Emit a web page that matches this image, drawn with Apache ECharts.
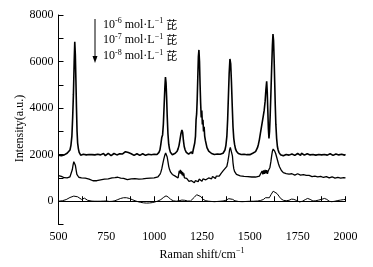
<!DOCTYPE html>
<html><head><meta charset="utf-8">
<script src="https://cdn.jsdelivr.net/npm/echarts@6/dist/echarts.min.js"></script>
<style>html,body{margin:0;padding:0;background:#fff}#c{width:373px;height:267px}</style>
</head><body><div id="c"></div>
<script>
// x tick labels
const xTickLabels = [500, 750, 1000, 1250, 1500, 1750, 2000];
const yTickLabels = [0, 2000, 4000, 6000, 8000];
const legendLabels = ['10^{-6}', '10^{-7}', '10^{-8}'];
const yAxisTitle = 'Intensity(a.u.)';

// 10^-6 mol/L (top)
const series1 = [[500,1980],[505,2020],[510,2000],[515,1960],[520,2010],[525,2040],[530,1990],[535,2030],[540,2000],[545,2060],[550,2040],[555,2100],[560,2200],[565,2400],[570,2800],[574,3600],[578,4600],[582,6000],[585,6850],[588,6300],[591,5200],[594,4000],[597,3000],[600,2500],[604,2250],[608,2100],[612,2050],[616,1980],[620,2030],[625,1970],[630,2020],[635,1960],[640,2040],[645,1990],[650,2050],[655,1970],[660,2010],[665,1960],[670,2030],[675,2000],[680,1950],[685,2040],[690,1990],[695,2060],[700,1970],[705,2020],[710,1960],[715,2040],[720,1990],[725,2030],[730,1970],[735,2050],[740,2000],[745,1960],[750,2030],[755,1990],[760,2060],[765,1980],[770,2020],[775,1960],[780,2040],[785,2000],[790,2050],[795,1980],[800,2030],[805,1990],[810,2060],[815,2000],[820,2040],[825,2010],[830,2060],[835,2030],[840,2080],[845,2100],[850,2130],[855,2100],[860,2140],[865,2090],[870,2110],[875,2060],[880,2040],[885,2000],[890,2030],[895,1970],[900,2020],[905,1960],[910,2040],[915,1990],[920,2030],[925,1970],[930,2010],[935,1960],[940,2040],[945,1990],[950,2020],[955,1970],[960,2050],[965,1990],[970,2020],[975,1970],[980,2040],[985,2000],[990,2030],[995,1980],[1000,2020],[1005,1990],[1010,2040],[1015,2010],[1020,2060],[1025,2100],[1030,2200],[1035,2450],[1040,2750],[1044,2850],[1048,3300],[1052,4100],[1056,4900],[1059,5330],[1062,5100],[1065,4500],[1068,3700],[1072,2900],[1076,2450],[1080,2250],[1085,2100],[1090,2050],[1095,2000],[1100,2030],[1105,2000],[1110,2060],[1115,2100],[1120,2150],[1125,2250],[1130,2400],[1135,2650],[1140,2900],[1145,3060],[1149,2950],[1153,2600],[1157,2350],[1162,2200],[1168,2100],[1174,2060],[1180,2020],[1185,2080],[1190,2000],[1195,2120],[1200,2030],[1204,2200],[1208,2350],[1212,2500],[1216,2800],[1219,3500],[1222,3750],[1225,4400],[1228,5300],[1231,6200],[1234,6500],[1237,6000],[1240,5000],[1243,4200],[1246,3600],[1249,3900],[1252,3300],[1255,3500],[1258,3000],[1261,3200],[1264,2800],[1268,2600],[1272,2450],[1276,2300],[1280,2250],[1285,2150],[1290,2100],[1295,2080],[1300,2050],[1305,2030],[1310,2060],[1315,2010],[1320,2040],[1325,2000],[1330,2030],[1335,2000],[1340,2050],[1345,2020],[1350,2000],[1355,2040],[1360,2060],[1365,2100],[1370,2200],[1375,2400],[1380,2800],[1384,3500],[1388,4500],[1392,5500],[1396,6110],[1400,5900],[1404,5100],[1408,4100],[1412,3200],[1416,2700],[1420,2450],[1425,2250],[1430,2150],[1435,2100],[1440,2050],[1445,2070],[1450,2030],[1455,2010],[1460,2040],[1465,2000],[1470,2020],[1475,1980],[1480,2030],[1485,2000],[1490,2040],[1495,2010],[1500,2000],[1505,2040],[1510,2020],[1515,2060],[1520,2080],[1525,2100],[1530,2130],[1535,2180],[1540,2300],[1545,2450],[1550,2650],[1555,2900],[1560,3150],[1565,3400],[1570,3650],[1575,3900],[1580,4300],[1584,4800],[1588,5150],[1591,4700],[1594,3900],[1597,3100],[1600,2700],[1603,3000],[1606,3600],[1610,4600],[1614,5700],[1618,6700],[1621,7180],[1624,6900],[1627,6100],[1630,5100],[1633,4100],[1636,3300],[1640,2700],[1644,2350],[1648,2200],[1652,2100],[1656,2050],[1660,2000],[1665,1960],[1670,2030],[1675,1950],[1680,2000],[1685,1940],[1690,2010],[1695,1960],[1700,2040],[1705,1980],[1710,2020],[1715,1950],[1720,2030],[1725,1980],[1730,2040],[1735,1970],[1740,2010],[1745,1960],[1750,2050],[1755,1990],[1760,2030],[1765,1970],[1770,2060],[1775,2000],[1780,2040],[1785,1980],[1790,2050],[1795,1990],[1800,2040],[1805,2000],[1810,2060],[1815,1990],[1820,2030],[1825,1970],[1830,2010],[1835,1960],[1840,2040],[1845,1980],[1850,2020],[1855,1950],[1860,2010],[1865,1960],[1870,2040],[1875,1990],[1880,2050],[1885,1970],[1890,2010],[1895,1950],[1900,2030],[1905,1980],[1910,2020],[1915,1960],[1920,2040],[1925,1990],[1930,2030],[1935,1970],[1940,2010],[1945,1950],[1950,2030],[1955,1980],[1960,2050],[1965,1990],[1970,2030],[1975,1960],[1980,2020],[1985,1970],[1990,2040],[1995,1980],[2000,2010]];

// 10^-7 mol/L (middle)
const series2 = [[500,1100],[505,1090],[510,1080],[515,1070],[520,1060],[525,1040],[530,1010],[535,990],[540,980],[545,1000],[550,990],[555,1020],[560,1050],[564,1000],[568,1100],[572,1350],[576,1550],[580,1700],[584,1720],[588,1550],[592,1350],[596,1150],[600,1080],[606,1030],[612,1010],[620,1000],[630,1000],[640,990],[650,970],[660,950],[670,910],[680,880],[690,870],[700,880],[710,900],[720,920],[730,940],[740,950],[750,960],[760,960],[770,980],[780,1000],[785,1040],[790,1060],[795,1010],[800,990],[805,1000],[810,1030],[815,1000],[820,960],[825,990],[830,1030],[835,1000],[840,980],[850,950],[860,930],[870,950],[880,960],[890,960],[900,970],[910,960],[920,950],[930,955],[940,960],[950,970],[960,980],[970,985],[980,990],[990,995],[1000,1000],[1010,1020],[1020,1050],[1025,1080],[1030,1150],[1035,1250],[1040,1400],[1045,1600],[1050,1800],[1055,1960],[1060,2070],[1064,2020],[1068,1900],[1072,1700],[1076,1500],[1080,1370],[1085,1260],[1090,1200],[1095,1150],[1100,1120],[1105,1100],[1110,1080],[1115,1050],[1120,1030],[1125,1000],[1128,1150],[1131,1300],[1134,1200],[1137,1350],[1140,1180],[1143,1300],[1146,1120],[1149,1250],[1152,1080],[1155,1200],[1158,1000],[1162,1080],[1166,920],[1170,980],[1174,900],[1178,950],[1182,850],[1186,920],[1190,780],[1195,880],[1200,820],[1205,860],[1210,790],[1215,880],[1220,830],[1225,900],[1230,840],[1235,950],[1240,880],[1245,930],[1250,860],[1255,960],[1260,900],[1265,980],[1270,920],[1275,960],[1280,900],[1285,1000],[1290,940],[1295,1030],[1300,960],[1305,1060],[1310,990],[1315,1050],[1320,980],[1325,1080],[1330,1030],[1335,1100],[1340,1080],[1345,1150],[1350,1200],[1355,1180],[1360,1300],[1365,1260],[1370,1400],[1375,1380],[1380,1500],[1385,1700],[1390,1950],[1394,2200],[1398,2310],[1402,2280],[1406,2240],[1409,1950],[1412,1650],[1416,1400],[1420,1280],[1425,1200],[1430,1150],[1435,1120],[1440,1100],[1450,1090],[1460,1080],[1470,1070],[1480,1050],[1490,1060],[1500,1050],[1510,1040],[1520,1030],[1530,1040],[1540,1050],[1550,1080],[1555,1100],[1560,1150],[1564,1300],[1568,1150],[1572,1320],[1576,1180],[1580,1350],[1584,1200],[1588,1330],[1592,1180],[1596,1300],[1600,1250],[1605,1450],[1610,1700],[1614,1950],[1618,2150],[1622,2240],[1626,2220],[1630,2150],[1635,2050],[1640,1900],[1645,1750],[1650,1600],[1655,1480],[1660,1400],[1665,1320],[1670,1260],[1675,1230],[1680,1200],[1690,1190],[1700,1180],[1705,1160],[1710,1200],[1715,1150],[1720,1180],[1725,1140],[1730,1170],[1735,1120],[1740,1150],[1745,1130],[1750,1180],[1755,1140],[1760,1190],[1765,1120],[1770,1150],[1775,1100],[1780,1140],[1785,1090],[1790,1130],[1795,1110],[1800,1140],[1805,1080],[1810,1110],[1815,1070],[1820,1100],[1825,1060],[1830,1090],[1835,1050],[1840,1080],[1845,1040],[1850,1090],[1855,1050],[1860,1110],[1865,1040],[1870,1070],[1875,1020],[1880,1060],[1885,1020],[1890,1070],[1895,1030],[1900,1060],[1905,1010],[1910,1050],[1915,1000],[1920,1040],[1925,1000],[1930,1050],[1935,1010],[1940,1040],[1945,990],[1950,1030],[1955,1000],[1960,1020],[1965,980],[1970,1030],[1975,990],[1980,1020],[1985,980],[1990,1010],[1995,990],[2000,1000]];

// 10^-8 mol/L (bottom)
const series3 = [[500,0],[510,5],[520,20],[530,40],[540,70],[550,110],[560,160],[570,200],[580,220],[590,230],[600,190],[610,130],[620,80],[628,70],[636,130],[644,80],[652,40],[660,20],[675,5],[690,0],[705,0],[720,0],[735,5],[750,10],[765,-10],[780,-5],[795,20],[810,70],[825,120],[840,150],[855,150],[870,120],[885,70],[900,20],[915,-20],[930,-50],[945,-70],[960,-80],[975,-75],[990,-60],[1005,-30],[1020,10],[1035,70],[1050,170],[1062,230],[1074,180],[1086,80],[1100,20],[1115,0],[1130,20],[1145,50],[1160,40],[1175,10],[1190,10],[1200,60],[1210,170],[1222,280],[1232,300],[1244,200],[1256,80],[1270,20],[1285,0],[1300,-10],[1315,-20],[1330,-10],[1345,0],[1360,10],[1375,40],[1390,110],[1400,130],[1410,80],[1422,20],[1440,-10],[1460,-20],[1480,-10],[1500,0],[1520,0],[1540,10],[1555,30],[1570,70],[1582,150],[1592,180],[1602,150],[1612,300],[1622,430],[1632,420],[1642,330],[1652,220],[1662,110],[1675,40],[1690,20],[1705,40],[1718,90],[1730,80],[1745,30],[1760,-30],[1775,0],[1790,70],[1802,120],[1815,80],[1830,10],[1845,20],[1860,50],[1875,80],[1890,120],[1902,80],[1915,0],[1928,-20],[1945,0],[1960,30],[1975,50],[1990,70],[2000,80]];

const FONT = '"Liberation Serif", "Times New Roman", serif';
const chart = echarts.init(document.getElementById('c'), null, {renderer: 'canvas'});

function supRich(s) {
  return s.replace(/\^\{([^}]*)\}/g, '{sup|$1}');
}
const legendLines = legendLabels.map(l => '{n|' + supRich(l).replace(/\{sup\|([^}]*)\}/, '}{sup|$1}{n|') + ' mol·L}{sup|−1}{n| }{cn|芘}');

chart.setOption({
  animation: false,
  backgroundColor: '#fff',
  grid: {left: 58.5, right: 27.5, top: 15, bottom: 42.5, containLabel: false},
  xAxis: {
    type: 'value', min: 500, max: 2000, interval: 125,
    name: '{n|Raman shift/cm}{sup|−1}', nameLocation: 'middle', nameGap: 21,
    nameTextStyle: {rich: {
      n: {fontFamily: FONT, fontSize: 12, color: '#000', lineHeight: 15},
      sup: {fontFamily: FONT, fontSize: 8, color: '#000', verticalAlign: 'top', lineHeight: 8}
    }},
    axisLine: {show: true, lineStyle: {color: '#000', width: 1}},
    axisTick: {show: true, inside: true, length: 5, lineStyle: {color: '#000'}},
    axisLabel: {
      margin: 6, color: '#000', fontFamily: FONT, fontSize: 12,
      formatter: v => xTickLabels.indexOf(v) >= 0 ? String(v) : ''
    },
    splitLine: {show: false}
  },
  yAxis: {
    type: 'value', min: -1000, max: 8000, interval: 1000,
    axisLine: {show: true, lineStyle: {color: '#000', width: 1}},
    axisTick: {show: true, inside: true, length: 5, lineStyle: {color: '#000'}},
    axisLabel: {
      margin: 5, color: '#000', fontFamily: FONT, fontSize: 12,
      formatter: v => yTickLabels.indexOf(v) >= 0 ? String(v) : ''
    },
    splitLine: {show: false}
  },
  series: [
    {type: 'line', data: series1, showSymbol: false, lineStyle: {color: '#000', width: 1.6}, z: 3},
    {type: 'line', data: series2, showSymbol: false, lineStyle: {color: '#000', width: 1.3}, z: 3},
    {type: 'line', data: series3, showSymbol: false, lineStyle: {color: '#000', width: 1}, z: 3}
  ],
  graphic: [
    {type: 'text', x: 20, y: 128.5, rotation: Math.PI / 2,
     style: {text: yAxisTitle, fontFamily: FONT, fontSize: 12, fill: '#000', align: 'center', verticalAlign: 'middle'}},
    {type: 'line', shape: {x1: 95, y1: 19, x2: 95, y2: 58}, style: {stroke: '#000', lineWidth: 1}},
    {type: 'polygon', shape: {points: [[92.5, 56], [97.5, 56], [95, 63]]}, style: {fill: '#000'}}
  ].concat(legendLines.map((t, i) => ({
    type: 'text', left: 103, top: 17 + i * 15.8,
    style: {
      text: t,
      rich: {
        n: {fontFamily: FONT, fontSize: 12, fill: '#000', lineHeight: 15},
        sup: {fontFamily: FONT, fontSize: 8, fill: '#000', verticalAlign: 'top', lineHeight: 8},
        cn: {fontFamily: '"Noto Sans CJK SC"', fontSize: 11, fill: '#000', lineHeight: 15}
      }
    }
  })))
});
</script>
</body></html>
